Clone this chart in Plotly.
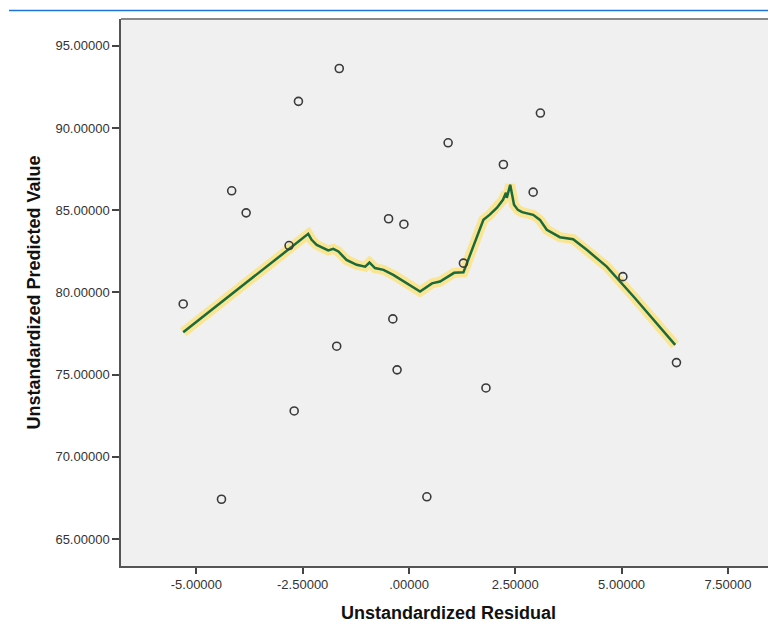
import plotly.graph_objects as go

# Scatter data: (Unstandardized Residual, Unstandardized Predicted Value)
residual = [-4.17, -3.83, -5.31, -2.82, -0.48, -0.12, -0.38, -1.70, -0.28, 1.28,
            2.22, 2.92, 5.03, 6.29, 1.81, 0.42, -4.41, -1.64, -2.60, 3.09,
            0.92, -2.70]
predicted = [86.18, 84.84, 79.30, 82.85, 84.48, 84.15, 78.39, 76.73, 75.29, 81.78,
             87.78, 86.10, 80.96, 75.73, 74.19, 67.57, 67.42, 93.62, 91.62, 90.91,
             89.10, 72.79]

# Loess fit line
fit_x = [-5.31, -2.84, -2.37, -2.29, -2.17, -1.90, -1.78, -1.66, -1.47, -1.23,
         -1.03, -0.93, -0.80, -0.60, -0.37, 0.26, 0.54, 0.73, 1.06, 1.28,
         1.75, 1.90, 2.07, 2.21, 2.28, 2.30, 2.38, 2.47, 2.56, 2.66,
         2.92, 3.08, 3.24, 3.55, 3.86, 4.18, 4.65, 5.28, 6.26]
fit_y = [77.58, 82.59, 83.56, 83.20, 82.89, 82.55, 82.65, 82.49, 81.98, 81.68,
         81.57, 81.82, 81.48, 81.37, 81.07, 80.05, 80.55, 80.66, 81.19, 81.22,
         84.42, 84.73, 85.15, 85.63, 86.06, 85.75, 86.55, 85.33, 85.02, 84.88,
         84.72, 84.41, 83.81, 83.36, 83.24, 82.59, 81.57, 79.75, 76.81]

x_tickvals = [-5, -2.5, 0, 2.5, 5, 7.5]
x_ticktext = ["-5.00000", "-2.50000", ".00000", "2.50000", "5.00000", "7.50000"]
y_tickvals = [65, 70, 75, 80, 85, 90, 95]
y_ticktext = ["65.00000", "70.00000", "75.00000", "80.00000", "85.00000", "90.00000", "95.00000"]

fig = go.Figure()

fig.add_trace(go.Scatter(
    x=fit_x, y=fit_y, mode="lines",
    line=dict(color="rgba(250,228,140,0.95)", width=10),
    hoverinfo="skip", showlegend=False))
fig.add_trace(go.Scatter(
    x=fit_x, y=fit_y, mode="lines",
    line=dict(color="#1b6a3c", width=2.5),
    hoverinfo="skip", showlegend=False))
fig.add_trace(go.Scatter(
    x=residual, y=predicted, mode="markers",
    marker=dict(symbol="circle-open", size=8, color="#3a3a3a",
                line=dict(width=1.6, color="#3a3a3a")),
    showlegend=False))

font_family = "Liberation Sans, Arial, sans-serif"

# the page body adds an 8px offset; margins compensate for it
fig.update_layout(
    width=768, height=624,
    margin=dict(l=113, r=0, t=11, b=66),
    paper_bgcolor="white",
    plot_bgcolor="#f0f0f0",
    font=dict(family=font_family, size=13, color="#333333"),
    xaxis=dict(
        range=[-6.773, 8.631],
        tickvals=x_tickvals, ticktext=x_ticktext,
        ticks="outside", ticklen=6, tickwidth=1.5, tickcolor="#444444",
        showgrid=False, zeroline=False,
        showline=True, linecolor="#555555", linewidth=1.5,
        tickfont=dict(size=13, color="#333333"),
        title=dict(text="<b>Unstandardized Residual</b>",
                   font=dict(size=18, color="#111111"), standoff=15),
    ),
    yaxis=dict(
        range=[63.36, 96.63],
        tickvals=y_tickvals, ticktext=y_ticktext,
        ticks="outside", ticklen=7, tickwidth=1.5, tickcolor="#444444",
        showgrid=False, zeroline=False,
        showline=True, linecolor="#555555", linewidth=1.5,
        tickfont=dict(size=13, color="#333333"),
        title=dict(text="<b>Unstandardized Predicted Value</b>",
                   font=dict(size=18, color="#111111"), standoff=10),
    ),
    shapes=[
        dict(type="line", xref="paper", yref="paper", x0=0, x1=1, y0=1, y1=1,
             line=dict(color="#888888", width=2)),
        dict(type="line", xref="paper", yref="paper", x0=-0.171, x1=1,
             y0=1.0155, y1=1.0155, line=dict(color="#1e74d6", width=1.5)),
    ],
)

fig.write_html("out.html")
